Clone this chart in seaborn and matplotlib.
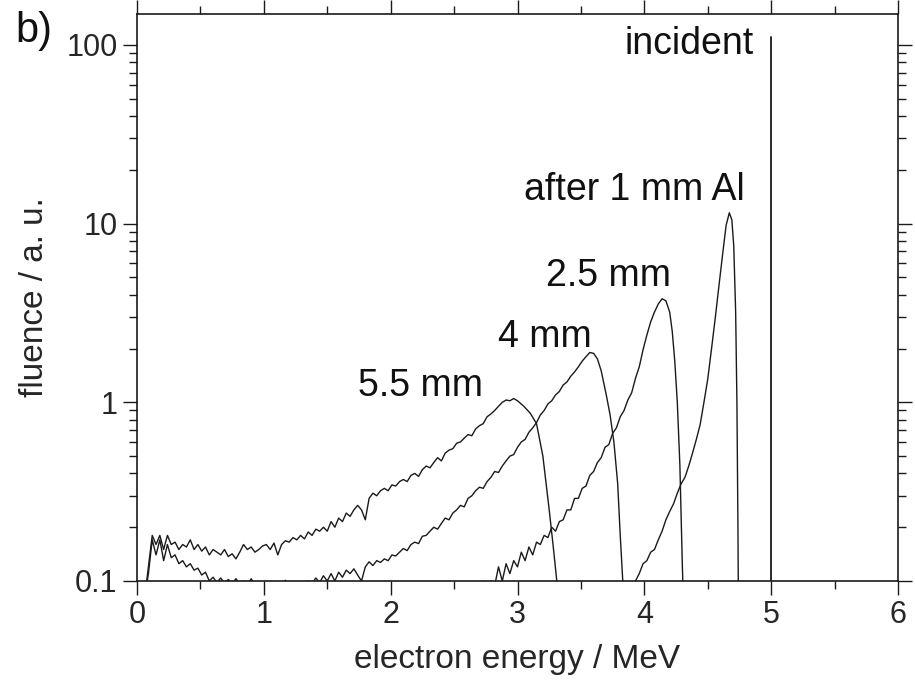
import numpy as np
import pandas as pd
import matplotlib
matplotlib.use("Agg")
import matplotlib.pyplot as plt
import seaborn as sns
from matplotlib.ticker import LogLocator, NullFormatter, FixedLocator, FixedFormatter, MultipleLocator

# ---------------- data ----------------
# noisy parts on a regular 0.03 MeV grid: start energy + values
al55_start = 0.06
al55_noisy = [0.08, 0.12, 0.18, 0.16, 0.18, 0.15, 0.18, 0.16, 0.165, 0.15,
              0.16, 0.155, 0.17, 0.15, 0.16, 0.147, 0.155, 0.14, 0.15, 0.145,
              0.14, 0.15, 0.137, 0.142, 0.133, 0.145, 0.16, 0.15, 0.155, 0.145,
              0.15, 0.157, 0.16, 0.15, 0.163, 0.14, 0.16, 0.168, 0.165, 0.175,
              0.17, 0.18, 0.172, 0.188, 0.18, 0.195, 0.19, 0.2, 0.19, 0.215,
              0.2, 0.225, 0.215, 0.24, 0.23, 0.25, 0.265, 0.25, 0.22,
              0.29, 0.31, 0.30, 0.32, 0.33, 0.32, 0.345, 0.34, 0.36, 0.37,
              0.36, 0.39, 0.40, 0.385, 0.42, 0.44, 0.43, 0.46, 0.49, 0.47,
              0.52, 0.54, 0.55, 0.59, 0.6, 0.63, 0.66, 0.65, 0.71, 0.74,
              0.76, 0.83, 0.86, 0.9, 0.95, 1.0, 1.03, 1.02]
al55_edge_e = [2.97, 3.0, 3.05, 3.1, 3.15, 3.2, 3.25, 3.28, 3.31, 3.33]
al55_edge_f = [1.05, 1.02, 0.95, 0.87, 0.76, 0.5, 0.25, 0.16, 0.1, 0.07]

al4_start = 0.06
al4_noisy = [0.08, 0.11, 0.17, 0.14, 0.17, 0.13, 0.16, 0.135, 0.14, 0.125,
             0.13, 0.12, 0.125, 0.115, 0.118, 0.108, 0.112, 0.1, 0.105, 0.098,
             0.104, 0.097, 0.102, 0.097, 0.103, 0.096, 0.1, 0.095, 0.103, 0.095,
             0.097, 0.094, 0.095, 0.093, 0.095, 0.093, 0.094, 0.101, 0.094, 0.093,
             0.095, 0.093, 0.095, 0.1, 0.097, 0.104, 0.098, 0.107, 0.1, 0.11,
             0.1, 0.112, 0.105, 0.115, 0.11, 0.117, 0.108, 0.1, 0.12, 0.128,
             0.122, 0.13, 0.127, 0.133,
             0.13, 0.14, 0.138, 0.145, 0.152, 0.148, 0.16, 0.165, 0.162, 0.178,
             0.18, 0.19, 0.2, 0.195, 0.21, 0.225, 0.22, 0.24, 0.25, 0.265,
             0.26, 0.29, 0.3, 0.32, 0.335, 0.33, 0.36, 0.38, 0.41, 0.405,
             0.44, 0.47, 0.5, 0.51, 0.56, 0.6, 0.62, 0.68, 0.72, 0.77,
             0.85, 0.9, 0.98, 1.02, 1.1, 1.15, 1.25, 1.3, 1.4, 1.48,
             1.58, 1.7, 1.8]
al4_edge_e = [3.57, 3.6, 3.63, 3.66, 3.7, 3.73, 3.76, 3.79, 3.81, 3.83, 3.85]
al4_edge_f = [1.9, 1.88, 1.75, 1.5, 1.1, 0.85, 0.6, 0.35, 0.18, 0.1, 0.07]

al25_start = 2.70
al25_noisy = [0.08, 0.1, 0.095, 0.1, 0.094, 0.12, 0.1, 0.125, 0.11, 0.13,
              0.12, 0.145, 0.13, 0.155, 0.14, 0.165, 0.16, 0.18, 0.175, 0.2,
              0.19, 0.215, 0.22, 0.25, 0.25, 0.29, 0.29, 0.33, 0.34, 0.39,
              0.41, 0.46, 0.49, 0.56, 0.58, 0.67, 0.72, 0.83, 0.9, 1.03,
              1.13, 1.36, 1.58, 1.97, 2.38, 2.82]
al25_edge_e = [4.08, 4.11, 4.14, 4.17, 4.2, 4.22, 4.24, 4.26, 4.28, 4.3, 4.31]
al25_edge_f = [3.2, 3.55, 3.8, 3.7, 3.2, 2.5, 1.7, 1.0, 0.45, 0.12, 0.07]

al1_start = 3.90
al1_noisy = [0.08, 0.1, 0.11, 0.125, 0.13, 0.145, 0.15, 0.17, 0.19, 0.22,
             0.245, 0.27, 0.31, 0.35, 0.38, 0.44, 0.52, 0.62, 0.75, 1.0, 1.35]
al1_edge_e = [4.53, 4.56, 4.59, 4.62, 4.645, 4.67, 4.69, 4.705, 4.72, 4.73, 4.738, 4.742]
al1_edge_f = [2.0, 3.0, 4.6, 7.0, 9.8, 11.5, 10.5, 7.5, 3.2, 1.0, 0.2, 0.07]

incident_e = [5.0, 5.0]
incident_f = [0.07, 111.0]

grid_step = 0.03

labels = ["incident", "after 1 mm Al", "2.5 mm", "4 mm", "5.5 mm"]
label_e = [4.353, 3.92, 3.717, 3.212, 2.234]
label_f = [89.0, 13.6, 4.45, 2.03, 1.08]

xticks = [0, 1, 2, 3, 4, 5, 6]
yticks = [0.1, 1, 10, 100]
yticklabels = ["0.1", "1", "10", "100"]


def build(name, start, noisy, edge_e, edge_f):
    e = list(start + grid_step * np.arange(len(noisy))) + list(edge_e)
    f = list(noisy) + list(edge_f)
    return pd.DataFrame({"energy": e, "fluence": f, "curve": name})


df = pd.concat([
    build("5.5 mm", al55_start, al55_noisy, al55_edge_e, al55_edge_f),
    build("4 mm", al4_start, al4_noisy, al4_edge_e, al4_edge_f),
    build("2.5 mm", al25_start, al25_noisy, al25_edge_e, al25_edge_f),
    build("1 mm", al1_start, al1_noisy, al1_edge_e, al1_edge_f),
    pd.DataFrame({"energy": incident_e, "fluence": incident_f, "curve": "incident"}),
], ignore_index=True)

# ---------------- plotting ----------------
sns.set_style("ticks")
plt.rcParams["font.family"] = ["Liberation Sans", "DejaVu Sans"]

fig = plt.figure(figsize=(9.15, 6.88), dpi=100)
ax = fig.add_axes([137 / 915, 1 - 581 / 688, (898 - 137) / 915, (581 - 14) / 688])

line_col = "#1a1a1a"
palette = {c: line_col for c in df["curve"].unique()}
sns.lineplot(data=df, x="energy", y="fluence", hue="curve", palette=palette,
             units="curve", estimator=None, sort=False, legend=False,
             linewidth=1.0, ax=ax)
ax.lines[-1].set_linewidth(1.3)

ax.set_yscale("log")
ax.set_xlim(0, 6)
ax.set_ylim(0.1, 149)

ax.xaxis.set_major_locator(FixedLocator(xticks))
ax.xaxis.set_minor_locator(MultipleLocator(0.5))
ax.yaxis.set_major_locator(FixedLocator(yticks))
ax.yaxis.set_major_formatter(FixedFormatter(yticklabels))
ax.yaxis.set_minor_locator(LogLocator(base=10, subs=np.arange(2, 10)))
ax.yaxis.set_minor_formatter(NullFormatter())

ax.tick_params(which="both", direction="out", top=True, right=True,
               labeltop=False, labelright=False, color="#1a1a1a", width=1.0)
ax.tick_params(which="major", length=10, labelsize=22)
ax.tick_params(which="minor", length=6)
ax.tick_params(axis="y", which="major", pad=4)
ax.tick_params(axis="x", which="major", pad=4)

for s in ax.spines.values():
    s.set_linewidth(1.2)
    s.set_color("#1a1a1a")
    s.set_visible(True)

ax.set_xlabel("electron energy / MeV", fontsize=24, labelpad=10)
ax.set_ylabel("fluence / a. u.", fontsize=24, labelpad=12)

for t, e, f in zip(labels, label_e, label_f):
    ax.text(e, f, t, ha="center", va="baseline", fontsize=27, color="#111111")

fig.text(15 / 915, 1 - 42 / 688, "b)", ha="left", va="baseline", fontsize=30, color="#111111")

fig.savefig("out.png", dpi=100)
